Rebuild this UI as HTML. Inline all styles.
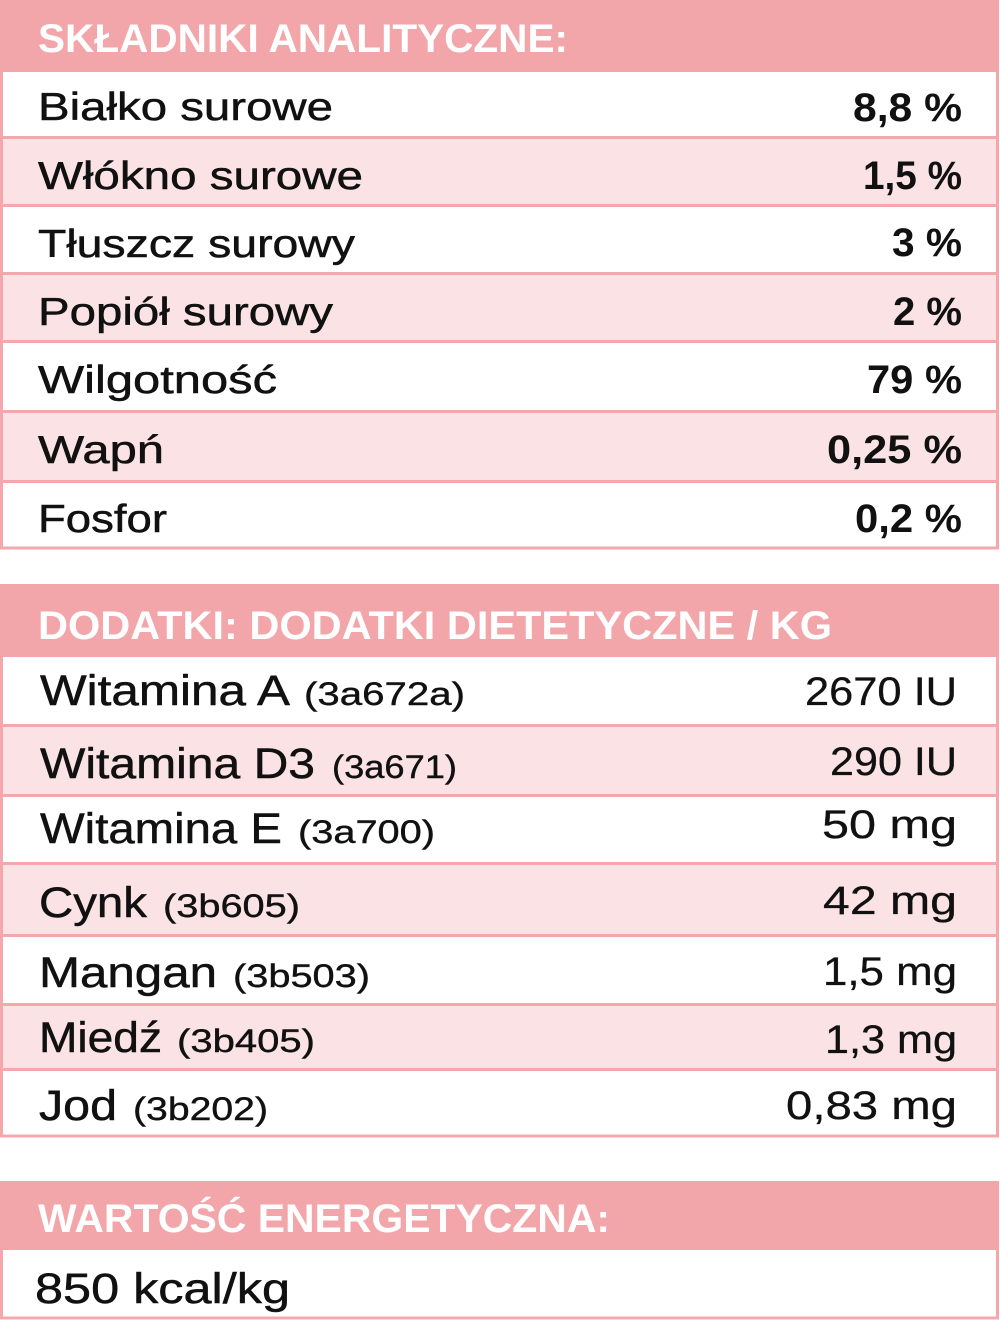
<!DOCTYPE html>
<html>
<head>
<meta charset="utf-8">
<style>
html,body{margin:0;padding:0;background:#fff;}
svg{display:block;}
text{font-family:"Liberation Sans","DejaVu Sans",sans-serif;}
.h{fill:#fff;font-weight:700;font-size:40px;}
.l{fill:#111;font-size:39px;stroke:#111;stroke-width:0.5px;}
.v{fill:#111;font-size:40px;font-weight:700;}
.l2{fill:#111;font-size:43px;stroke:#111;stroke-width:0.5px;}
.p{fill:#111;font-size:32px;stroke:#111;stroke-width:0.4px;}
.v2{fill:#111;font-size:40px;stroke:#111;stroke-width:0.3px;}
</style>
</head>
<body>
<svg width="1000" height="1321" viewBox="0 0 1000 1321" xmlns="http://www.w3.org/2000/svg">
<rect x="0" y="0" width="1000" height="1321" fill="#fff"/>

<!-- Section 1 -->
<g fill="#fbe3e5">
<rect x="3" y="138" width="994" height="67"/>
<rect x="3" y="274" width="994" height="67"/>
<rect x="3" y="412" width="994" height="69"/>
</g>
<g stroke="#f4a8ac" stroke-width="3">
<line x1="0" y1="137.5" x2="999" y2="137.5"/>
<line x1="0" y1="205.5" x2="999" y2="205.5"/>
<line x1="0" y1="273.5" x2="999" y2="273.5"/>
<line x1="0" y1="341.5" x2="999" y2="341.5"/>
<line x1="0" y1="411.5" x2="999" y2="411.5"/>
<line x1="0" y1="481.5" x2="999" y2="481.5"/>
</g>
<rect x="1.5" y="1.5" width="996" height="546.5" fill="none" stroke="#f4a8ac" stroke-width="3"/>
<rect x="0" y="0" width="999" height="72" fill="#f2a6aa"/>
<text class="h" x="38" y="52" textLength="530" lengthAdjust="spacingAndGlyphs">SKŁADNIKI ANALITYCZNE:</text>

<text class="l" x="38" y="120" textLength="295" lengthAdjust="spacingAndGlyphs">Białko surowe</text>
<text class="l" x="38" y="189" textLength="325" lengthAdjust="spacingAndGlyphs">Włókno surowe</text>
<text class="l" x="38" y="257" textLength="317" lengthAdjust="spacingAndGlyphs">Tłuszcz surowy</text>
<text class="l" x="38" y="325" textLength="295" lengthAdjust="spacingAndGlyphs">Popiół surowy</text>
<text class="l" x="38" y="393" textLength="239" lengthAdjust="spacingAndGlyphs">Wilgotność</text>
<text class="l" x="38" y="463" textLength="126" lengthAdjust="spacingAndGlyphs">Wapń</text>
<text class="l" x="38" y="532" textLength="129" lengthAdjust="spacingAndGlyphs">Fosfor</text>

<text class="v" x="853" y="121" textLength="109" lengthAdjust="spacingAndGlyphs">8,8 %</text>
<text class="v" x="863" y="189" textLength="99" lengthAdjust="spacingAndGlyphs">1,5 %</text>
<text class="v" x="892" y="256" textLength="70" lengthAdjust="spacingAndGlyphs">3 %</text>
<text class="v" x="893" y="325" textLength="69" lengthAdjust="spacingAndGlyphs">2 %</text>
<text class="v" x="867" y="393" textLength="95" lengthAdjust="spacingAndGlyphs">79 %</text>
<text class="v" x="827" y="463" textLength="135" lengthAdjust="spacingAndGlyphs">0,25 %</text>
<text class="v" x="855" y="532" textLength="107" lengthAdjust="spacingAndGlyphs">0,2 %</text>

<!-- Section 2 -->
<g fill="#fbe3e5">
<rect x="3" y="726" width="994" height="69"/>
<rect x="3" y="864" width="994" height="71"/>
<rect x="3" y="1005" width="994" height="64"/>
</g>
<g stroke="#f4a8ac" stroke-width="3">
<line x1="0" y1="725.5" x2="999" y2="725.5"/>
<line x1="0" y1="795.5" x2="999" y2="795.5"/>
<line x1="0" y1="863.5" x2="999" y2="863.5"/>
<line x1="0" y1="935.5" x2="999" y2="935.5"/>
<line x1="0" y1="1004.5" x2="999" y2="1004.5"/>
<line x1="0" y1="1069.5" x2="999" y2="1069.5"/>
</g>
<rect x="1.5" y="585.5" width="996" height="550.5" fill="none" stroke="#f4a8ac" stroke-width="3"/>
<rect x="0" y="584" width="999" height="73" fill="#f2a6aa"/>
<text class="h" x="38" y="639" textLength="794" lengthAdjust="spacingAndGlyphs">DODATKI: DODATKI DIETETYCZNE / KG</text>

<text class="l2" x="40" y="705" textLength="250" lengthAdjust="spacingAndGlyphs">Witamina A</text>
<text class="p" x="304" y="705" textLength="161" lengthAdjust="spacingAndGlyphs">(3a672a)</text>
<text class="l2" x="40" y="778" textLength="275" lengthAdjust="spacingAndGlyphs">Witamina D3</text>
<text class="p" x="332" y="778" textLength="125" lengthAdjust="spacingAndGlyphs">(3a671)</text>
<text class="l2" x="40" y="843" textLength="242" lengthAdjust="spacingAndGlyphs">Witamina E</text>
<text class="p" x="298" y="843" textLength="137" lengthAdjust="spacingAndGlyphs">(3a700)</text>
<text class="l2" x="39" y="917" textLength="108" lengthAdjust="spacingAndGlyphs">Cynk</text>
<text class="p" x="163" y="917" textLength="137" lengthAdjust="spacingAndGlyphs">(3b605)</text>
<text class="l2" x="39" y="987" textLength="178" lengthAdjust="spacingAndGlyphs">Mangan</text>
<text class="p" x="233" y="987" textLength="137" lengthAdjust="spacingAndGlyphs">(3b503)</text>
<text class="l2" x="39" y="1052" textLength="123" lengthAdjust="spacingAndGlyphs">Miedź</text>
<text class="p" x="177" y="1052" textLength="138" lengthAdjust="spacingAndGlyphs">(3b405)</text>
<text class="l2" x="39" y="1120" textLength="78" lengthAdjust="spacingAndGlyphs">Jod</text>
<text class="p" x="133" y="1120" textLength="135" lengthAdjust="spacingAndGlyphs">(3b202)</text>

<text class="v2" x="805" y="705" textLength="152" lengthAdjust="spacingAndGlyphs">2670 IU</text>
<text class="v2" x="830" y="775" textLength="127" lengthAdjust="spacingAndGlyphs">290 IU</text>
<text class="v2" x="822" y="838" textLength="135" lengthAdjust="spacingAndGlyphs">50 mg</text>
<text class="v2" x="823" y="914" textLength="134" lengthAdjust="spacingAndGlyphs">42 mg</text>
<text class="v2" x="823" y="985" textLength="134" lengthAdjust="spacingAndGlyphs">1,5 mg</text>
<text class="v2" x="825" y="1053" textLength="132" lengthAdjust="spacingAndGlyphs">1,3 mg</text>
<text class="v2" x="786" y="1119" textLength="171" lengthAdjust="spacingAndGlyphs">0,83 mg</text>

<!-- Section 3 -->
<rect x="1.5" y="1182.5" width="996" height="135.5" fill="none" stroke="#f4a8ac" stroke-width="3"/>
<rect x="0" y="1181" width="999" height="69" fill="#f2a6aa"/>
<text class="h" x="38" y="1232" textLength="572" lengthAdjust="spacingAndGlyphs">WARTOŚĆ ENERGETYCZNA:</text>
<text class="l2" x="35" y="1303" textLength="255" lengthAdjust="spacingAndGlyphs">850 kcal/kg</text>
</svg>
</body>
</html>
